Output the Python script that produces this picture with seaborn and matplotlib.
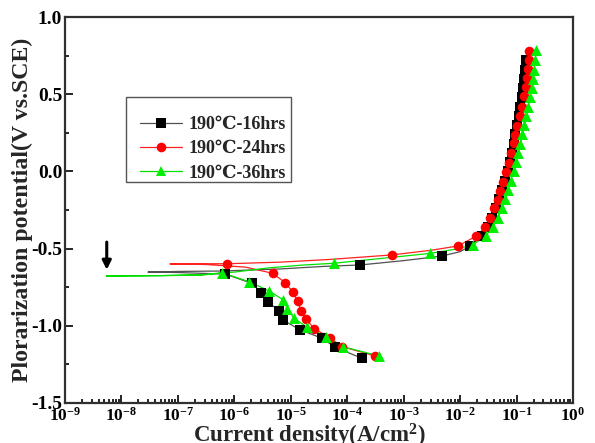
import matplotlib
matplotlib.use("Agg")
import matplotlib.pyplot as plt
import matplotlib.ticker as mticker
from matplotlib.lines import Line2D
from matplotlib.patches import Rectangle
import numpy as np
import pandas as pd
import seaborn as sns

# data: log10(current density) and potential, path order
# (cathodic end -> Ecorr excursion -> anodic end)
labels = ["190\u2103-16hrs", "190\u2103-24hrs", "190\u2103-36hrs"]

h16_logi = [-3.74, -4.21, -4.45, -4.83, -5.14, -5.21, -5.40, -5.52, -5.69, -6.16,
            -7.0, -7.53, -7.0, -6.2, -5.2, -4.4, -3.77, -3.0, -2.32, -2.0, -1.82,
            -1.62, -1.50, -1.43, -1.37, -1.31, -1.26, -1.21, -1.16, -1.12, -1.08,
            -1.05, -1.02, -0.99, -0.96, -0.93, -0.905, -0.88, -0.86, -0.845, -0.83]
h16_E = [-1.21, -1.14, -1.08, -1.027, -0.962, -0.904, -0.844, -0.785, -0.725, -0.665,
         -0.655, -0.652, -0.648, -0.645, -0.632, -0.615, -0.606, -0.578, -0.548, -0.52, -0.483,
         -0.42, -0.36, -0.30, -0.24, -0.18, -0.12, -0.06, 0.0, 0.06, 0.12,
         0.18, 0.24, 0.30, 0.36, 0.42, 0.48, 0.54, 0.60, 0.66, 0.72]
h16_marks = list(range(0, 10)) + [16, 18] + list(range(20, 41))

h24_logi = [-3.50, -4.09, -4.31, -4.58, -4.73, -4.82, -4.88, -4.96, -5.10, -5.32,
            -5.8, -6.5, -7.14, -6.6, -6.13, -5.2, -4.3, -3.21, -2.5, -2.04,
            -1.713, -1.553, -1.465, -1.406, -1.335, -1.300, -1.239, -1.186, -1.140, -1.098,
            -1.051, -1.021, -0.991, -0.945, -0.903, -0.862, -0.832, -0.814, -0.796, -0.785, -0.773]
h24_E = [-1.196, -1.135, -1.077, -1.019, -0.958, -0.902, -0.839, -0.783, -0.72, -0.66,
         -0.62, -0.603, -0.599, -0.598, -0.598, -0.588, -0.57, -0.541, -0.51, -0.483,
         -0.419, -0.362, -0.304, -0.239, -0.185, -0.125, -0.067, -0.002, 0.056, 0.117,
         0.182, 0.236, 0.294, 0.359, 0.419, 0.488, 0.549, 0.603, 0.661, 0.721, 0.78]
h24_marks = list(range(0, 10)) + [14, 17] + list(range(19, 41))

h36_logi = [-3.43, -4.08, -4.38, -4.71, -4.94, -5.06, -5.13, -5.38, -5.74, -6.22,
            -6.6, -7.5, -8.27, -7.3, -6.5, -6.0, -5.37, -4.8, -4.24, -3.3, -2.53, -2.1, -1.78,
            -1.54, -1.42, -1.33, -1.26, -1.20, -1.15, -1.10, -1.05, -1.01, -0.97,
            -0.93, -0.895, -0.86, -0.825, -0.79, -0.76, -0.73, -0.71, -0.69, -0.67, -0.65]
h36_E = [-1.196, -1.135, -1.07, -1.01, -0.951, -0.893, -0.833, -0.775, -0.714, -0.656,
         -0.672, -0.676, -0.677, -0.675, -0.668, -0.652, -0.624, -0.607, -0.595, -0.56, -0.531, -0.505, -0.477,
         -0.416, -0.358, -0.30, -0.239, -0.18, -0.12, -0.06, 0.0, 0.06, 0.12,
         0.18, 0.24, 0.30, 0.36, 0.42, 0.48, 0.54, 0.60, 0.66, 0.72, 0.786]
h36_marks = list(range(0, 10)) + [18, 20] + list(range(22, 44))

arrow_logi = -8.26
arrow_E = (-0.44, -0.655)

sns.set_style("ticks")
plt.rcParams["font.family"] = ["Liberation Serif", "DejaVu Serif"]
plt.rcParams["font.weight"] = "bold"
plt.rcParams["axes.labelweight"] = "bold"
plt.rcParams["mathtext.fontset"] = "custom"
plt.rcParams["mathtext.rm"] = "Liberation Serif:bold"
plt.rcParams["mathtext.it"] = "Liberation Serif:italic:bold"
plt.rcParams["mathtext.bf"] = "Liberation Serif:bold"
plt.rcParams["mathtext.default"] = "rm"
plt.rcParams["axes.unicode_minus"] = False

fig = plt.figure(figsize=(5.95, 4.43), dpi=100)
ax = fig.add_axes([0.1092, 0.0903, 0.8538, 0.8713])
ax.set_xscale("log")

series = [
    (h16_logi, h16_E, h16_marks, "#505050", "black", "s", 42),
    (h24_logi, h24_E, h24_marks, "#ff2020", "#ff0000", "o", 48),
    (h36_logi, h36_E, h36_marks, "#00e000", "#00ee00", "^", 62),
]
handles = []
for (lg, E, mk, lc, mc, m, s), lab in zip(series, labels):
    df = pd.DataFrame({"i": 10.0 ** np.array(lg), "E": E})
    sns.lineplot(data=df, x="i", y="E", sort=False, estimator=None,
                 color=lc, lw=0.9, ax=ax)
    sns.scatterplot(data=df.iloc[mk], x="i", y="E", marker=m, s=s,
                    color=mc, linewidth=0, ax=ax, zorder=3)
    handles.append(Line2D([], [], color=lc, lw=0.9, marker=m, markersize=np.sqrt(s),
                          markerfacecolor=mc, markeredgewidth=0))

ax.annotate("", xy=(10 ** arrow_logi, arrow_E[1]), xytext=(10 ** arrow_logi, arrow_E[0]),
            arrowprops=dict(arrowstyle="-|>", color="black", lw=2.2, mutation_scale=13))

ax.set_xlim(1e-9, 1e0)
ax.set_ylim(-1.5, 1.0)
ax.xaxis.set_major_locator(mticker.LogLocator(base=10, numticks=20))
ax.xaxis.set_minor_locator(mticker.LogLocator(base=10, subs=np.arange(2, 10), numticks=20))
ax.xaxis.set_minor_formatter(mticker.NullFormatter())
ax.yaxis.set_major_locator(mticker.MultipleLocator(0.5))
ax.yaxis.set_minor_locator(mticker.MultipleLocator(0.25))
ax.yaxis.set_major_formatter(mticker.FormatStrFormatter("%.1f"))

ax.tick_params(which="both", direction="in", top=False, right=False, width=1.2, colors="black")
ax.tick_params(which="major", length=6, pad=3)
ax.tick_params(which="minor", length=3)
ax.tick_params(axis="x", labelsize=12.5)
ax.tick_params(axis="y", labelsize=14, pad=2)
for sp in ax.spines.values():
    sp.set_linewidth(1.6)
    sp.set_color("#303030")

ax.set_xlabel("Current density(A/cm$^{2}$)", fontsize=16.5)
ax.set_ylabel("Plorarization potential(V vs.SCE)", fontsize=17.2)
ax.xaxis.set_label_coords(0.48, -0.049)
ax.yaxis.set_label_coords(-0.063, 0.50)

# legend box drawn separately (reference frame has uneven padding)
ax.add_patch(Rectangle((0.120, 0.5725), 0.325, 0.2205, transform=ax.transAxes,
                       facecolor="white", edgecolor="#555555", lw=1.0, zorder=4))
leg = ax.legend(handles, labels, loc="upper left", bbox_to_anchor=(0.148, 0.743),
                borderaxespad=0, borderpad=0, fontsize=13, handlelength=2.33,
                labelspacing=0.4, handletextpad=0.33, frameon=False)
leg.set_zorder(5)

fig.savefig("out.png", dpi=100)
